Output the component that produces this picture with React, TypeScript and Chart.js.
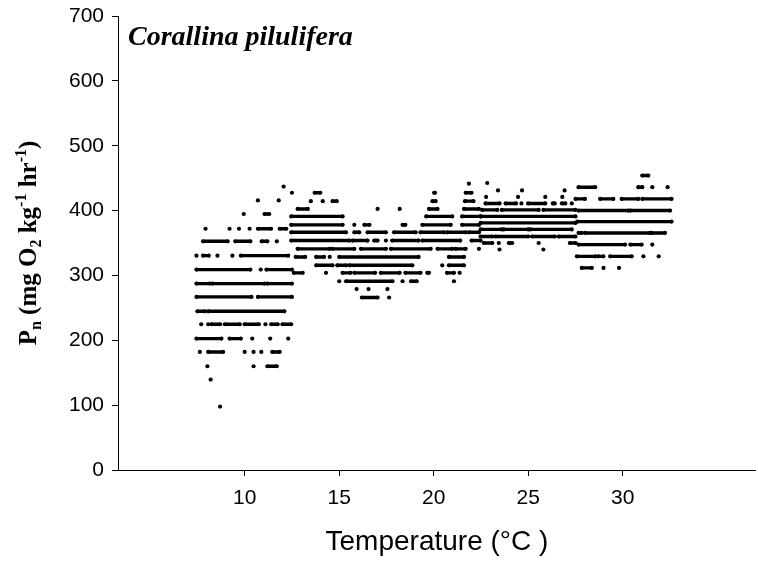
import React, { useEffect, useRef } from 'react';
import { Chart, registerables } from 'chart.js';

Chart.register(...registerables);

// ---- axis / text data ----
const speciesName = 'Corallina pilulifera';
const xAxisTitle = 'Temperature (°C )';
const xTickValues = [10, 15, 20, 25, 30];
const xRange = [3.3, 37.04];
const yRange = [0, 700];
const yStep = 100;

// ---- observations: [Pn value, runs of temperature (start, end, start, end, ...)] ----
// cool block (about 7.4 - 12.5 °C)
const coolRows: [number, number[]][] = [
  [437, [12.06, 12.06]],
  [415.7, [10.7, 10.7, 11.8, 11.8]],
  [394.7, [9.95, 9.95, 11.05, 11.3]],
  [372, [7.93, 7.93, 9.2, 9.2, 9.7, 9.7, 10.26, 10.26, 10.7, 11.4, 11.85, 12.2]],
  [352.6, [7.8, 9.1, 9.5, 10.3, 10.9, 11.2, 11.7, 11.7]],
  [330.5, [7.45, 7.45, 7.8, 8.1, 8.56, 8.56, 9.35, 9.35, 9.8, 12.3]],
  [309, [7.45, 10.3, 10.85, 10.85, 11.15, 12.5]],
  [287.4, [7.45, 8.15, 8.3, 11.05, 11.2, 12.5]],
  [266.9, [7.45, 10.36, 10.7, 12.5]],
  [244.7, [7.5, 7.9, 8.07, 12.1]],
  [224.7, [7.7, 7.7, 8.07, 8.07, 8.25, 8.7, 8.95, 9.74, 10.0, 10.75, 11.1, 11.1, 11.4, 11.75, 12.0, 12.46]],
  [202.6, [7.45, 8.77, 9.2, 9.8, 10.4, 10.4, 11.35, 11.35, 12.3, 12.3]],
  [182, [7.63, 7.63, 8.07, 8.86, 10.0, 10.0, 10.47, 10.47, 10.88, 10.88, 11.46, 11.85]],
  [160, [8.03, 8.03, 10.47, 10.47, 11.2, 11.7]],
  [139.4, [8.2, 8.2]],
  [97.8, [8.7, 8.7]],
];

// middle block (about 12.5 - 22.5 °C)
const midRows: [number, number[]][] = [
  [441.5, [21.86, 21.86]],
  [427.5, [12.5, 12.5, 13.7, 14.0, 20.02, 20.07, 21.69, 22.0]],
  [414.5, [13.5, 13.5, 14.13, 14.13, 14.65, 14.87, 19.93, 20.1, 21.65, 22.1]],
  [402.5, [12.8, 13.34, 17.03, 17.03, 18.2, 18.2, 19.75, 20.2, 21.6, 22.39]],
  [391, [12.46, 15.18, 19.6, 20.98, 21.5, 22.48]],
  [378, [12.46, 15.18, 15.8, 15.8, 16.33, 16.6, 18.35, 18.5, 19.4, 20.9, 21.5, 22.4]],
  [366.5, [12.46, 15.36, 15.8, 16.06, 16.5, 17.47, 17.9, 19.05, 19.3, 20.54, 20.7, 21.7, 21.86, 22.39]],
  [353.8, [12.46, 15.53, 15.7, 16.5, 16.85, 17.03, 17.47, 17.47, 17.8, 19.2, 19.4, 21.4, 22.0, 22.48]],
  [341, [12.8, 14.5, 14.65, 15.8, 16.15, 17.47, 17.73, 19.84, 20.2, 20.98, 21.16, 21.69, 22.39, 22.39]],
  [328.5, [12.7, 13.2, 13.78, 14.2, 14.5, 14.5, 15.0, 19.2, 20.8, 21.6]],
  [315.6, [13.78, 14.65, 14.9, 15.36, 15.53, 18.87, 20.45, 20.45, 20.8, 21.6]],
  [304, [12.6, 13.07, 14.3, 14.3, 15.18, 15.6, 15.8, 16.9, 17.2, 18.2, 18.5, 19.3, 19.66, 19.75, 20.7, 21.07, 21.37, 21.37]],
  [291, [15.0, 15.0, 15.36, 17.82, 18.35, 18.35, 18.8, 19.1, 21.07, 21.07]],
  [279, [15.92, 15.92, 16.55, 16.55, 17.55, 17.55]],
  [266, [16.2, 17.03, 17.64, 17.64]],
];

// warm block (about 22.5 - 27.5 °C)
const warmRows: [number, number[]][] = [
  [442.5, [22.83, 22.83]],
  [431, [23.4, 23.4, 24.67, 24.67, 26.92, 26.92]],
  [421, [22.77, 22.77, 24.46, 24.46, 25.9, 25.9, 26.8, 26.8]],
  [411, [22.74, 23.48, 23.8, 24.35, 24.64, 24.64, 24.99, 25.9, 26.3, 26.4, 26.78, 26.96, 27.3, 27.3]],
  [401, [22.56, 23.36, 23.6, 25.55, 25.8, 27.5]],
  [391, [22.48, 27.5]],
  [381, [22.48, 27.5]],
  [371, [22.48, 23.6, 23.7, 25.0, 25.1, 27.3]],
  [360, [22.48, 23.1, 23.27, 25.0, 25.2, 26.4, 26.6, 27.5]],
  [350, [22.65, 23.1, 23.44, 23.44, 23.97, 24.15, 25.55, 25.55, 27.2, 27.5]],
  [340, [23.48, 23.48, 25.8, 25.8]],
];

// hot block (about 27.5 - 32.6 °C)
const hotRows: [number, number[]][] = [
  [454, [31.03, 31.35]],
  [436, [27.66, 28.54, 30.82, 31.03, 31.56, 31.56, 32.37, 32.37]],
  [418, [27.5, 28.0, 28.8, 29.5, 29.94, 30.82, 31.03, 32.58]],
  [400, [27.66, 30.3, 30.4, 32.5]],
  [383, [27.6, 32.58]],
  [365.5, [27.66, 27.83, 28.0, 31.44, 31.52, 32.23]],
  [347.5, [27.66, 30.12, 30.4, 31.0, 31.56, 31.56]],
  [329.4, [27.57, 28.54, 28.7, 28.97, 29.33, 30.47, 31.09, 31.09, 31.9, 31.9]],
  [311.6, [27.83, 28.36, 28.98, 28.98, 29.8, 29.8]],
];

const allRows = [...coolRows, ...midRows, ...warmRows, ...hotRows];

function buildPoints() {
  const pts: { x: number; y: number | null }[] = [];
  for (const [v, runs] of allRows) {
    for (let i = 0; i < runs.length; i += 2) {
      const a = runs[i];
      const b = runs[i + 1];
      pts.push({ x: a, y: v });
      if (b !== a) pts.push({ x: b, y: v });
      pts.push({ x: a, y: null });
    }
  }
  return pts;
}

const richTextPlugin = {
  id: 'richText',
  afterDraw(chart: any) {
    const ctx: CanvasRenderingContext2D = chart.ctx;
    const { left, top, bottom } = chart.chartArea;
    ctx.save();
    ctx.fillStyle = '#000';
    ctx.textBaseline = 'alphabetic';
    ctx.textAlign = 'left';
    ctx.font = 'italic bold 28px "Liberation Serif", "Times New Roman", serif';
    ctx.fillText(speciesName, left + 10, top + 29);

    // y axis title with sub/superscripts
    const segs: { t: string; k: 'n' | 'sub' | 'sup' }[] = [
      { t: 'P', k: 'n' },
      { t: 'n', k: 'sub' },
      { t: ' (mg O', k: 'n' },
      { t: '2', k: 'sub' },
      { t: ' kg', k: 'n' },
      { t: '-1', k: 'sup' },
      { t: ' hr', k: 'n' },
      { t: '-1', k: 'sup' },
      { t: ')', k: 'n' },
    ];
    const big = 'bold 25px "Liberation Serif", "Times New Roman", serif';
    const small = 'bold 16px "Liberation Serif", "Times New Roman", serif';
    let total = 0;
    for (const s of segs) {
      ctx.font = s.k === 'n' ? big : small;
      total += ctx.measureText(s.t).width;
    }
    ctx.translate(30, (top + bottom) / 2);
    ctx.rotate(-Math.PI / 2);
    let x = -total / 2;
    const base = 6;
    for (const s of segs) {
      ctx.font = s.k === 'n' ? big : small;
      const dy = s.k === 'sub' ? 5 : s.k === 'sup' ? -10 : 0;
      ctx.fillText(s.t, x, base + dy);
      x += ctx.measureText(s.t).width;
    }
    ctx.restore();
  },
};

export default function App() {
  const ref = useRef<HTMLCanvasElement | null>(null);
  useEffect(() => {
    document.body.style.margin = '0';
    const canvas = ref.current;
    if (!canvas) return;
    const tickFont = { family: '"Liberation Sans", Arial, sans-serif', size: 21 };
    const chart = new Chart(canvas, {
      type: 'scatter',
      data: {
        datasets: [
          {
            data: buildPoints() as any,
            showLine: true,
            spanGaps: false,
            borderColor: '#000',
            borderWidth: 3.4,
            backgroundColor: '#000',
            pointBackgroundColor: '#000',
            pointBorderWidth: 0,
            pointRadius: 2.1,
            pointHoverRadius: 2.1,
          },
        ],
      },
      options: {
        responsive: false,
        animation: false,
        devicePixelRatio: 1,
        layout: { padding: { top: 16, right: 0, left: 0, bottom: 0 } },
        plugins: { legend: { display: false }, tooltip: { enabled: false } },
        events: [],
        scales: {
          x: {
            type: 'linear',
            min: xRange[0],
            max: xRange[1],
            afterBuildTicks: (scale: any) => {
              scale.ticks = xTickValues.map((v) => ({ value: v }));
            },
            afterFit: (scale: any) => {
              scale.height = 97;
              scale.paddingLeft = 0;
              scale.paddingRight = 0;
            },
            ticks: { color: '#000', font: tickFont, padding: 10, maxRotation: 0, autoSkip: false },
            grid: { display: true, drawOnChartArea: false, drawTicks: true, tickLength: 6, color: '#000', lineWidth: 1 },
            border: { display: true, color: '#000', width: 1 },
            title: {
              display: true,
              text: xAxisTitle,
              color: '#000',
              font: { family: '"Liberation Sans", Arial, sans-serif', size: 28 },
              padding: { top: 0, bottom: 8 },
            },
          },
          y: {
            type: 'linear',
            min: yRange[0],
            max: yRange[1],
            afterFit: (scale: any) => {
              scale.width = 118;
              scale.paddingTop = 0;
              scale.paddingBottom = 0;
            },
            ticks: { stepSize: yStep, color: '#000', font: tickFont, padding: 8 },
            grid: { display: true, drawOnChartArea: false, drawTicks: true, tickLength: 6, color: '#000', lineWidth: 1 },
            border: { display: true, color: '#000', width: 1 },
          },
        },
      },
      plugins: [richTextPlugin],
    });
    return () => chart.destroy();
  }, []);
  return (
    <div style={{ width: 758, height: 567, background: '#fff' }}>
      <canvas ref={ref} width={758} height={567} style={{ display: 'block' }} />
    </div>
  );
}
